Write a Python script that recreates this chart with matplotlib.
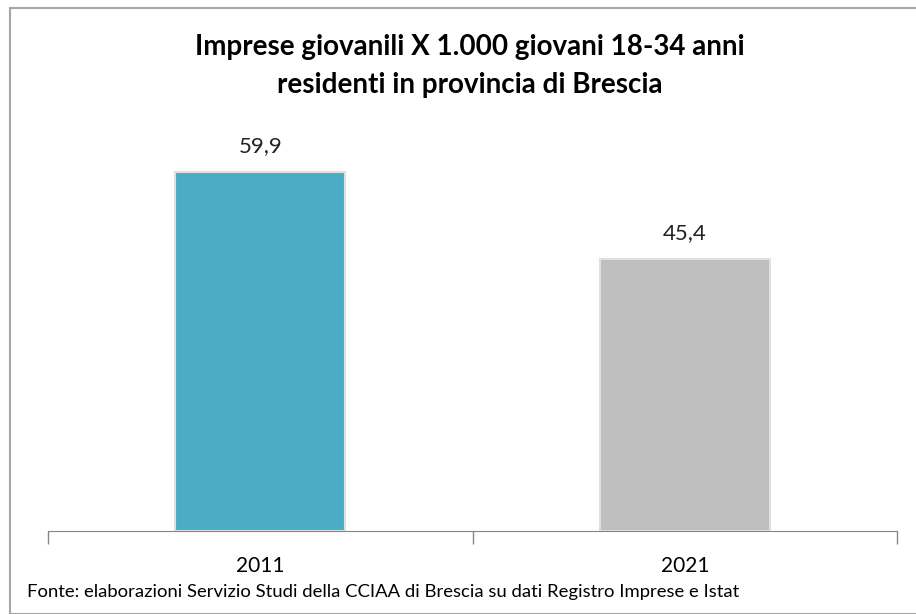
import matplotlib.pyplot as plt
from matplotlib.patches import Rectangle

plt.rcParams["font.family"] = ["Lato", "DejaVu Sans"]

years = ["2011", "2021"]
values = [59.9, 45.4]
labels = ["59,9", "45,4"]
colors = ["#4BACC6", "#BFBFBF"]

fig = plt.figure(figsize=(9.16, 6.14), dpi=100)
W, H = 916, 614

# cornice grigia del grafico
fig.patches.append(Rectangle((10 / W, 0), 1.0, 1 - 8 / H, transform=fig.transFigure,
                             fill=False, edgecolor="#A6A6A6", linewidth=1.5))

ax = fig.add_axes([48 / W, (H - 531) / H, 849 / W, 420 / H])
x = range(len(years))
bars = ax.bar(x, values, width=0.4, color=colors, edgecolor="#E0E0E0", linewidth=1.5)
for b, lab in zip(bars, labels):
    ax.text(b.get_x() + b.get_width() / 2, b.get_height() + 2.6, lab,
            ha="center", va="bottom", fontsize=16, color="#222222")

ax.set_xlim(-0.5, 1.5)
ax.set_ylim(0, 70)
for s in ["top", "right", "left"]:
    ax.spines[s].set_visible(False)
ax.spines["bottom"].set_color("#868686")
ax.set_yticks([])
ax.set_xticks([-0.5, 0.5, 1.5], minor=False)
ax.set_xticklabels([])
ax.tick_params(axis="x", length=9, color="#868686", width=1)
ax.set_xticks(list(x), minor=True)
ax.set_xticklabels(years, minor=True, fontsize=15)
ax.tick_params(axis="x", which="minor", length=0, pad=18)

fig.text(470 / W, 1 - 47 / H, "Imprese giovanili X 1.000 giovani 18-34 anni",
         ha="center", va="center", fontsize=20, fontweight="bold")
fig.text(470 / W, 1 - 85 / H, "residenti in provincia di Brescia",
         ha="center", va="center", fontsize=20, fontweight="bold")
fig.text(27 / W, 1 - 592 / H,
         "Fonte: elaborazioni Servizio Studi della CCIAA di Brescia su dati Registro Imprese e Istat",
         ha="left", va="center", fontsize=13.3)

fig.savefig("out.png", dpi=100)
